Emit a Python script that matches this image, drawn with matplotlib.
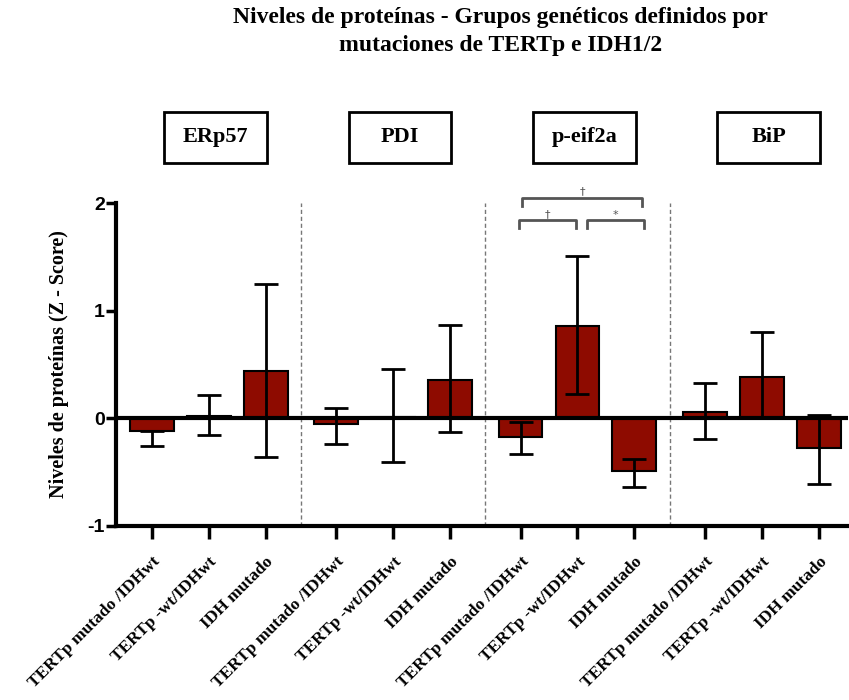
import matplotlib
matplotlib.use("Agg")
import matplotlib.pyplot as plt
import matplotlib.transforms as mtransforms
from matplotlib.patches import Rectangle
import numpy as np

# groups and categories
proteins = ["ERp57", "PDI", "p-eif2a", "BiP"]
categories = ["TERTp mutado /IDHwt", "TERTp -wt/IDHwt", "IDH mutado"]

# mean Z-score per protein (rows) and genetic group (cols)
means = [
    [-0.115, 0.02, 0.435],
    [-0.05, 0.01, 0.355],
    [-0.175, 0.86, -0.49],
    [0.06, 0.385, -0.28],
]
# error bar ends (top, bottom)
err_top = [
    [-0.115, 0.215, 1.25],
    [0.10, 0.46, 0.865],
    [-0.035, 1.51, -0.375],
    [0.325, 0.80, 0.03],
]
err_bottom = [
    [-0.257, -0.157, -0.355],
    [-0.24, -0.41, -0.13],
    [-0.33, 0.23, -0.635],
    [-0.19, 0.0, -0.61],
]

group_step = 3.24
bar_color = "#8E0B00"
serif = ["Liberation Serif", "DejaVu Serif"]

fig = plt.figure(figsize=(8.49, 7.0), dpi=100)
ax = fig.add_axes([0.1366, 0.2486, 0.862, 0.4614])

xs, ticklabels = [], []
for g, prot in enumerate(proteins):
    x = g * group_step + np.arange(3)
    m = np.array(means[g])
    up = np.array(err_top[g]) - m
    lo = m - np.array(err_bottom[g])
    ax.bar(x, m, width=0.77, color=bar_color, edgecolor="black", linewidth=1.5, zorder=2)
    ax.errorbar(x, m, yerr=[lo, up], fmt="none", ecolor="black", elinewidth=2,
                capsize=8.6, capthick=2, zorder=3)
    xs.extend(x)
    ticklabels.extend(categories)

# zero line
ax.axhline(0, color="black", linewidth=3, zorder=4)

# dashed separators between groups
for g in range(1, 4):
    sx = (g - 1) * group_step + 2 + (group_step - 2) / 2
    ax.axvline(sx, color="#777777", linestyle=(0, (3, 2)), linewidth=1, zorder=1)

ax.set_xlim(-0.63, 12.23)
ax.set_ylim(-1, 2)
ax.set_yticks([-1, 0, 1, 2])
ax.set_yticklabels(["-1", "0", "1", "2"], fontfamily="Liberation Sans",
                   fontweight="bold", fontsize=14)
ax.set_xticks(xs)
ax.set_xticklabels(ticklabels, rotation=45, ha="right", rotation_mode="anchor",
                   fontfamily=serif, fontweight="bold", fontsize=12.5)
ax.tick_params(axis="x", length=9, width=2.5, pad=11)
ax.tick_params(axis="y", length=7, width=2.5, pad=1)

for side in ["top", "right"]:
    ax.spines[side].set_visible(False)
for side in ["left", "bottom"]:
    ax.spines[side].set_linewidth(3)

ax.set_ylabel("Niveles de proteínas (Z - Score)", fontfamily=serif,
              fontweight="bold", fontsize=14.5, labelpad=13)

# significance brackets (p-eif2a)
px = 2 * group_step
gray = "#555555"
def bracket(x0, x1, y, h, label, ly):
    ax.plot([x0, x0, x1, x1], [y - h, y, y, y - h], color=gray, linewidth=2,
            clip_on=False, zorder=5)
    ax.text((x0 + x1) / 2, ly, label, ha="center", va="center", color=gray,
            fontsize=8, fontfamily="DejaVu Sans", clip_on=False)

bracket(px + 0.03, px + 2.14, 2.045, 0.075, "†", 2.11)
bracket(px - 0.02, px + 0.98, 1.84, 0.075, "†", 1.90)
bracket(px + 1.16, px + 2.17, 1.84, 0.075, "*", 1.89)

# protein boxes above each group
trans = mtransforms.blended_transform_factory(ax.transData, fig.transFigure)
for g, prot in enumerate(proteins):
    cx = g * group_step + 1 + 0.12
    ax.add_patch(Rectangle((cx - 0.9, 0.767), 1.8, 0.073, transform=trans,
                           facecolor="white", edgecolor="black", linewidth=2,
                           clip_on=False))
    fig.text(cx, 0.8036, prot, transform=trans, ha="center", va="center",
             fontfamily=serif, fontweight="bold", fontsize=16)

fig.text(0.59, 0.955, "Niveles de proteínas - Grupos genéticos definidos por\n"
         "mutaciones de TERTp e IDH1/2", ha="center", va="center",
         fontfamily=serif, fontweight="bold", fontsize=17, linespacing=1.4)

fig.savefig("out.png", dpi=100)
